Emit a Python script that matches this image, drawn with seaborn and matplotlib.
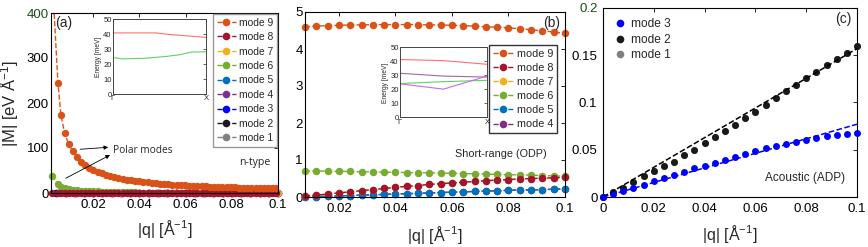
import matplotlib
matplotlib.use('Agg')
import matplotlib.pyplot as plt
from matplotlib.lines import Line2D
import seaborn as sns

# ---------------- data ----------------
# panel (a): long-range (polar) matrix elements
q_a = [0.002, 0.0047, 0.006, 0.0076, 0.0093, 0.0111, 0.0129, 0.0147, 0.0165, 0.0183,
       0.0201, 0.0219, 0.0237, 0.0255, 0.0273, 0.0291, 0.0309, 0.0327, 0.0345, 0.0363,
       0.0381, 0.0399, 0.0417, 0.0435, 0.0453, 0.0471, 0.0489, 0.0507, 0.0525, 0.0543,
       0.0561, 0.0579, 0.0597, 0.0615, 0.0633, 0.0651, 0.0669, 0.0687, 0.0705, 0.0723,
       0.0741, 0.0759, 0.0777, 0.0795, 0.0813, 0.0831, 0.0849, 0.0867, 0.0885, 0.0903,
       0.0921, 0.0939, 0.0957, 0.0975, 0.0993]
m9_a = [500, 245, 173, 133, 109, 93, 80, 70, 62.5, 56.5,
        51.5, 47.3, 43.7, 40.6, 37.9, 35.5, 33.4, 31.5, 29.8, 28.3,
        26.9, 25.7, 24.5, 23.5, 22.5, 21.6, 20.8, 20.0, 19.3, 18.7,
        18.1, 17.5, 17.0, 16.5, 16.0, 15.6, 15.2, 14.8, 14.4, 14.0,
        13.7, 13.4, 13.1, 12.8, 12.5, 12.2, 12.0, 11.7, 11.5, 11.3,
        11.1, 10.8, 10.6, 10.4, 10.2]
m8_a = [0.02, 0.03, 0.04, 0.05, 0.06, 0.07, 0.08, 0.09, 0.10, 0.11,
        0.12, 0.13, 0.14, 0.15, 0.16, 0.17, 0.18, 0.19, 0.20, 0.21,
        0.22, 0.23, 0.24, 0.25, 0.26, 0.27, 0.28, 0.29, 0.30, 0.31,
        0.32, 0.33, 0.34, 0.35, 0.36, 0.37, 0.38, 0.39, 0.40, 0.41,
        0.42, 0.43, 0.44, 0.45, 0.46, 0.47, 0.48, 0.49, 0.50, 0.51,
        0.52, 0.52, 0.53, 0.53, 0.53]
m6_a = [38, 20, 14, 10.5, 8.5, 7.0, 6.0, 5.3, 4.7, 4.2,
        3.8, 3.4, 3.0, 2.7, 2.4, 2.1, 1.9, 1.7, 1.5, 1.3,
        1.2, 1.1, 1.0, 0.9, 0.9, 0.8, 0.8, 0.8, 0.8, 0.8,
        0.8, 0.8, 0.8, 0.8, 0.8, 0.8, 0.8, 0.8, 0.8, 0.8,
        0.8, 0.8, 0.8, 0.8, 0.8, 0.8, 0.8, 0.8, 0.8, 0.8,
        0.8, 0.8, 0.8, 0.8, 0.8]

# panel (b): short-range optical modes
q_b = [0.008, 0.012, 0.016, 0.02, 0.024, 0.028, 0.032, 0.036, 0.04, 0.044, 0.048, 0.052,
       0.056, 0.06, 0.064, 0.068, 0.072, 0.076, 0.08, 0.084, 0.088, 0.092, 0.096, 0.1]
m9_b = [4.60, 4.62, 4.63, 4.64, 4.65, 4.65, 4.66, 4.66, 4.66, 4.66, 4.66, 4.65,
        4.65, 4.64, 4.63, 4.62, 4.60, 4.59, 4.57, 4.55, 4.52, 4.49, 4.46, 4.42]
m8_b = [0.03, 0.05, 0.08, 0.11, 0.14, 0.17, 0.20, 0.23, 0.26, 0.29, 0.31, 0.34,
        0.36, 0.38, 0.40, 0.42, 0.44, 0.46, 0.47, 0.49, 0.50, 0.51, 0.52, 0.53]
m7_b = [0.03, 0.05, 0.08, 0.11, 0.14, 0.17, 0.20, 0.23, 0.26, 0.29, 0.31, 0.34,
        0.36, 0.38, 0.40, 0.42, 0.44, 0.46, 0.47, 0.49, 0.50, 0.51, 0.52, 0.53]
m6_b = [0.70, 0.70, 0.70, 0.69, 0.69, 0.68, 0.68, 0.67, 0.67, 0.66, 0.66, 0.65,
        0.65, 0.64, 0.63, 0.63, 0.62, 0.61, 0.60, 0.60, 0.59, 0.58, 0.57, 0.56]
m5_b = [0.00, 0.01, 0.02, 0.03, 0.04, 0.05, 0.06, 0.07, 0.08, 0.09, 0.10, 0.11,
        0.12, 0.13, 0.14, 0.15, 0.16, 0.17, 0.18, 0.19, 0.19, 0.20, 0.21, 0.22]
m4_b = [0.00, 0.01, 0.02, 0.03, 0.04, 0.05, 0.06, 0.07, 0.08, 0.09, 0.10, 0.11,
        0.12, 0.13, 0.14, 0.15, 0.16, 0.17, 0.18, 0.19, 0.19, 0.20, 0.21, 0.22]

# panel (c): acoustic modes
q_c = [0, 0.004, 0.008, 0.012, 0.016, 0.02, 0.024, 0.028, 0.032, 0.036, 0.04, 0.044, 0.048,
       0.052, 0.056, 0.06, 0.064, 0.068, 0.072, 0.076, 0.08, 0.084, 0.088, 0.092, 0.096, 0.1]
m3_c = [0, 0.0037, 0.0068, 0.0096, 0.0131, 0.0166, 0.0201, 0.0236, 0.0267, 0.0302, 0.0333,
        0.0365, 0.0396, 0.0428, 0.0456, 0.0487, 0.0516, 0.054, 0.0564, 0.0585, 0.0606,
        0.0627, 0.0645, 0.0655, 0.0666, 0.0676]
m2_c = [0, 0.005, 0.0095, 0.0155, 0.0218, 0.028, 0.033, 0.0375, 0.044, 0.0498, 0.0568,
        0.0634, 0.0697, 0.0767, 0.0837, 0.0903, 0.0977, 0.1046, 0.112, 0.1187, 0.1256,
        0.1326, 0.1396, 0.146, 0.152, 0.1595]
m1_c = m2_c  # hidden behind mode 2
fit_q = [0, 0.1]
fit2 = [0, 0.157]
fit3 = [0, 0.077]

# insets: phonon energies along Gamma-X
ins_a_xr = [0, 0.46, 0.6, 1]
ins_a_red = [41, 41, 40, 38]
ins_a_xg = [0, 0.1, 0.35, 0.57, 0.71, 0.85, 1]
ins_a_green = [24.5, 23.6, 24, 25.2, 26.3, 28.2, 28.3]
ins_b_x = [0, 0.5, 1]
ins_b_red = [41.3, 40.5, 37.9]
ins_b_mauve = [31.5, 29.5, 28.8]
ins_b_violet = [24, 20.2, 29.5]
ins_b_green = [24.2, 25.5, 26.5]

colors = {9: '#D95319', 8: '#A2142F', 7: '#EDB120', 6: '#77AC30', 5: '#0072BD',
          4: '#7E2F8E', 3: '#0000FF', 2: '#1a1a1a', 1: '#808080'}

sns.set_style('white')
plt.rcParams['font.family'] = ['Liberation Sans', 'DejaVu Sans']
plt.rcParams['mathtext.fontset'] = 'custom'
plt.rcParams['mathtext.rm'] = 'Liberation Sans'
plt.rcParams['mathtext.it'] = 'Liberation Sans:italic'
plt.rcParams['axes.linewidth'] = 0.8
plt.rcParams['axes.edgecolor'] = 'black'

W, H = 868, 247
fig = plt.figure(figsize=(W / 100, H / 100), dpi=100)


def px_axes(l, t, r, b):
    return fig.add_axes([l / W, (H - b) / H, (r - l) / W, (b - t) / H])


def modeline(ax, x, y, m, clip=False, ms=5.3):
    sns.lineplot(x=x, y=y, ax=ax, color=colors[m], linestyle='--', linewidth=1,
                 marker='o', markersize=ms, markeredgewidth=0, clip_on=clip,
                 sort=False, estimator=None)


def style_ax(ax, pad_y=2):
    ax.tick_params(direction='in', top=True, right=True, length=3, width=0.6,
                   labelsize=9.5, colors='black')
    ax.tick_params(axis='y', pad=pad_y)
    ax.tick_params(axis='x', pad=4)
    ax.set_xlabel('|q| [Å$^{-1}$]', fontsize=11.5)
    for s in ax.spines.values():
        s.set_visible(True)
        s.set_color('black')


def leg_handles(modes, line=True):
    hs = []
    for m in modes:
        hs.append(Line2D([], [], color=colors[m], ls='--' if line else 'none', lw=1,
                         marker='o', ms=5.5, mew=0))
    return hs


def inset(ax):
    ax.set_xlim(0, 1)
    ax.set_ylim(0, 50)
    ax.set_yticks([0, 10, 20, 30, 40, 50])
    ax.set_xticks([0, 1])
    ax.set_xticklabels(['Γ', 'X'])
    ax.tick_params(direction='in', top=True, right=True, length=2, width=0.5,
                   labelsize=5.5, pad=1)
    ax.set_ylabel('Energy [meV]', fontsize=4.8, labelpad=1)
    for s in ax.spines.values():
        s.set_visible(True)
        s.set_color('#444444')
        s.set_linewidth(0.7)
    ax.set_facecolor('white')


# ---------------- panel (a) ----------------
ax_a = px_axes(51, 13, 278, 193)
for m, (x, y) in [(1, (q_c[1:], m1_c[1:])), (2, (q_c[1:], m2_c[1:])),
                  (3, (q_c[1:], m3_c[1:])), (4, (q_b, m4_b)), (5, (q_b, m5_b)),
                  (6, (q_a, m6_a)), (7, (q_b, m7_b)), (8, (q_a, m8_a))]:
    modeline(ax_a, x, y, m, clip=False)
modeline(ax_a, q_a, m9_a, 9, clip=True)
ax_a.set_xlim(0.0017, 0.1)
ax_a.set_ylim(0, 400)
ax_a.set_xticks([0.02, 0.04, 0.06, 0.08, 0.1])
ax_a.set_xticklabels(['0.02', '0.04', '0.06', '0.08', '0.1'])
ax_a.set_yticks([0, 100, 200, 300, 400])
ax_a.set_yticklabels(['0', '100', '200', '300', '400'])
style_ax(ax_a, pad_y=1.5)
ax_a.get_yticklabels()[-1].set_color('#1B4D1B')
ax_a.set_ylabel('|M| [eV Å$^{-1}$]', fontsize=12)
ax_a.yaxis.set_label_coords(-0.132, 0.5)
ax_a.xaxis.set_label_coords(0.5, -0.14)
ax_a.text(0.018, 0.947, '(a)', transform=ax_a.transAxes, fontsize=10, va='center')
ax_a.text(0.273, 0.235, 'Polar modes', transform=ax_a.transAxes, fontsize=7.3,
          va='center', family='Open Sans')
ax_a.text(0.828, 0.167, 'n-type', transform=ax_a.transAxes, fontsize=7.6,
          va='center', family='Open Sans')
arrow = dict(arrowstyle='-|>', color='black', lw=0.6, mutation_scale=6, shrinkA=0, shrinkB=0)
ax_a.annotate('', xy=(0.252, 0.254), xytext=(0.128, 0.243), xycoords='axes fraction',
              textcoords='axes fraction', arrowprops=arrow)
ax_a.annotate('', xy=(0.26, 0.211), xytext=(0.065, 0.082), xycoords='axes fraction',
              textcoords='axes fraction', arrowprops=arrow)
leg = ax_a.legend(leg_handles([9, 8, 7, 6, 5, 4, 3, 2, 1]),
                  ['mode %d' % m for m in [9, 8, 7, 6, 5, 4, 3, 2, 1]],
                  loc='upper right', bbox_to_anchor=(0.996, 0.994), fontsize=7.4,
                  handlelength=1.9, handletextpad=0.3, labelspacing=0.43, borderpad=0.35,
                  borderaxespad=0, fancybox=False, edgecolor='#999999', framealpha=1)
leg.get_frame().set_linewidth(1.0)

in_a = px_axes(113, 19.5, 206, 94)
sns.lineplot(x=ins_a_xr, y=ins_a_red, ax=in_a, color='#FF6F6F', linewidth=0.8)
sns.lineplot(x=ins_a_xg, y=ins_a_green, ax=in_a, color='#5FD35F', linewidth=0.8)
inset(in_a)

# ---------------- panel (b) ----------------
ax_b = px_axes(305, 12, 565, 197)
for m, y in [(4, m4_b), (5, m5_b), (6, m6_b), (7, m7_b), (8, m8_b), (9, m9_b)]:
    modeline(ax_b, q_b, y, m, clip=False, ms=5.4)
ax_b.set_xlim(0.008, 0.1)
ax_b.set_ylim(0, 5)
ax_b.set_xticks([0.02, 0.04, 0.06, 0.08, 0.1])
ax_b.set_xticklabels(['0.02', '0.04', '0.06', '0.08', '0.1'])
ax_b.set_yticks([0, 1, 2, 3, 4, 5])
ax_b.set_yticklabels(['0', '1', '2', '3', '4', '5'])
style_ax(ax_b, pad_y=1.5)
ax_b.set_ylabel('')
ax_b.xaxis.set_label_coords(0.5, -0.148)
ax_b.text(0.915, 0.943, '(b)', transform=ax_b.transAxes, fontsize=10, va='center')
ax_b.text(0.577, 0.232, 'Short-range (ODP)', transform=ax_b.transAxes, fontsize=7.8,
          va='center')
leg = ax_b.legend(leg_handles([9, 8, 7, 6, 5, 4]),
                  ['mode %d' % m for m in [9, 8, 7, 6, 5, 4]],
                  loc='upper right', bbox_to_anchor=(0.969, 0.822), fontsize=7.8,
                  handlelength=1.9, handletextpad=0.3, labelspacing=0.38, borderpad=0.35,
                  borderaxespad=0, fancybox=False, edgecolor='#333333', framealpha=1)
leg.get_frame().set_linewidth(1.0)

in_b = px_axes(400, 47.3, 487, 117.5)
sns.lineplot(x=ins_b_x, y=ins_b_red, ax=in_b, color='#FF6F6F', linewidth=0.8)
sns.lineplot(x=ins_b_x, y=ins_b_mauve, ax=in_b, color='#9F6A9F', linewidth=0.8)
sns.lineplot(x=ins_b_x, y=ins_b_green, ax=in_b, color='#5FD35F', linewidth=0.8)
sns.lineplot(x=ins_b_x, y=ins_b_violet, ax=in_b, color='#C46BF0', linewidth=0.8)
inset(in_b)

# ---------------- panel (c) ----------------
ax_c = px_axes(603, 8, 857, 197)
for m, y in [(1, m1_c), (2, m2_c), (3, m3_c)]:
    sns.scatterplot(x=q_c, y=y, ax=ax_c, color=colors[m], s=25, linewidth=0,
                    clip_on=False, zorder=3)
sns.lineplot(x=fit_q, y=fit2, ax=ax_c, color='black', linestyle='--', linewidth=1.1, zorder=4)
sns.lineplot(x=fit_q, y=fit3, ax=ax_c, color=colors[3], linestyle='--', linewidth=1.1, zorder=4)
ax_c.set_xlim(0, 0.1)
ax_c.set_ylim(0, 0.2)
ax_c.set_xticks([0, 0.02, 0.04, 0.06, 0.08, 0.1])
ax_c.set_xticklabels(['0', '0.02', '0.04', '0.06', '0.08', '0.1'])
ax_c.set_yticks([0, 0.05, 0.1, 0.15, 0.2])
ax_c.set_yticklabels(['0', '0.05', '0.1', '0.15', '0.2'])
style_ax(ax_c, pad_y=4)
ax_c.get_yticklabels()[-1].set_color('#1B4D1B')
ax_c.xaxis.set_label_coords(0.5, -0.14)
ax_c.text(0.913, 0.942, '(c)', transform=ax_c.transAxes, fontsize=10, va='center')
ax_c.text(0.638, 0.1, 'Acoustic (ADP)', transform=ax_c.transAxes, fontsize=8.5, va='center')
ax_c.legend(leg_handles([3, 2, 1], line=False), ['mode 3', 'mode 2', 'mode 1'],
            loc='upper left', bbox_to_anchor=(0.01, 0.99), fontsize=8.6, handlelength=1.0,
            handletextpad=0.4, labelspacing=0.3, borderpad=0.2, frameon=False)

fig.savefig('out.png', dpi=100)
